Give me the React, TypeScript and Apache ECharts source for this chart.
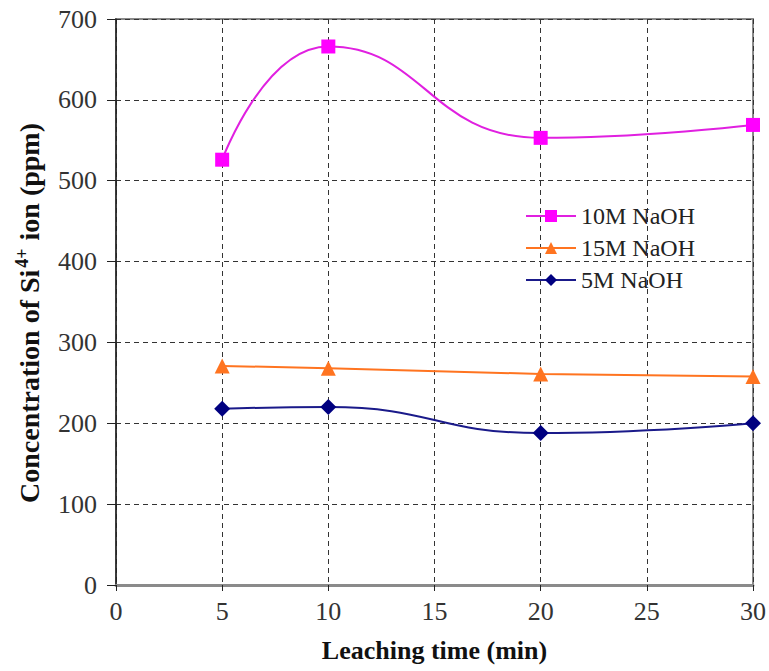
import React, { useEffect, useRef } from "react";
import * as echarts from "echarts";

const times = [5, 10, 20, 30];
const naoh10M = [526, 666, 553, 569];
const naoh15M = [271, 268, 261, 258];
const naoh5M = [218, 220, 188, 200];
const seriesNames = ["10M NaOH", "15M NaOH", "5M NaOH"];

const serif = "'Liberation Serif', 'Times New Roman', serif";

export default function App() {
  const ref = useRef<HTMLDivElement>(null);
  useEffect(() => {
    document.body.style.margin = "0";
    if (!ref.current) return;
    const chart = echarts.init(ref.current, null, { renderer: "svg" });
    const toData = (vals: number[]) => times.map((t, i) => [t, vals[i]]);
    chart.setOption({
      animation: false,
      backgroundColor: "#fff",
      grid: {
        left: 116,
        right: 16,
        top: 19,
        bottom: 86,
        show: true,
        borderColor: "#8a8a8a",
        borderWidth: 2,
      },
      legend: {
        orient: "vertical",
        left: 520,
        top: 199,
        itemWidth: 50,
        itemHeight: 15,
        itemGap: 8,
        textStyle: { fontFamily: serif, fontSize: 24, color: "#222" },
        data: seriesNames,
      },
      xAxis: {
        type: "value",
        min: 0,
        max: 30,
        interval: 5,
        name: "Leaching time (min)",
        nameLocation: "middle",
        nameGap: 52,
        nameTextStyle: { fontFamily: serif, fontSize: 26, fontWeight: "bold", color: "#111" },
        axisLine: { show: true, lineStyle: { color: "#8a8a8a", width: 3 } },
        axisTick: { show: true, length: 6, lineStyle: { color: "#222" } },
        axisLabel: { fontFamily: serif, fontSize: 26, color: "#333", margin: 13 },
        splitLine: { show: true, lineStyle: { color: "#333", type: [5, 4], width: 1 } },
      },
      yAxis: {
        type: "value",
        min: 0,
        max: 700,
        interval: 100,
        name: "Concentration of Si{sup|4+} ion (ppm)",
        nameLocation: "middle",
        nameGap: 71,
        nameTextStyle: {
          fontFamily: serif,
          fontSize: 28,
          fontWeight: "bold",
          color: "#111",
          padding: [0, 22, 0, 0],
          rich: {
            sup: {
              fontFamily: serif,
              fontSize: 18,
              fontWeight: "bold",
              color: "#111",
              verticalAlign: "top",
              padding: [0, 1, 14, 2],
            },
          },
        },
        axisLine: { show: true, lineStyle: { color: "#222", width: 1.5 } },
        axisTick: { show: true, length: 9, lineStyle: { color: "#222" } },
        axisLabel: { fontFamily: serif, fontSize: 26, color: "#333", margin: 19 },
        splitLine: { show: true, lineStyle: { color: "#333", type: [5, 4], width: 1 } },
      },
      series: [
        {
          name: seriesNames[0],
          type: "line",
          smooth: 0.5,
          data: toData(naoh10M),
          symbol: "rect",
          symbolSize: 14,
          itemStyle: { color: "#ff00ff" },
          lineStyle: { color: "#e020e0", width: 2 },
          z: 3,
        },
        {
          name: seriesNames[1],
          type: "line",
          smooth: false,
          data: toData(naoh15M),
          symbol: "triangle",
          symbolSize: 15,
          itemStyle: { color: "#ff7420" },
          lineStyle: { color: "#ff7420", width: 2 },
          z: 3,
        },
        {
          name: seriesNames[2],
          type: "line",
          smooth: 0.5,
          data: toData(naoh5M),
          symbol: "diamond",
          symbolSize: 16,
          itemStyle: { color: "#000080" },
          lineStyle: { color: "#1a1a8a", width: 2 },
          z: 3,
        },
      ],
    });
    return () => chart.dispose();
  }, []);
  return <div ref={ref} style={{ width: 769, height: 671 }} />;
}
